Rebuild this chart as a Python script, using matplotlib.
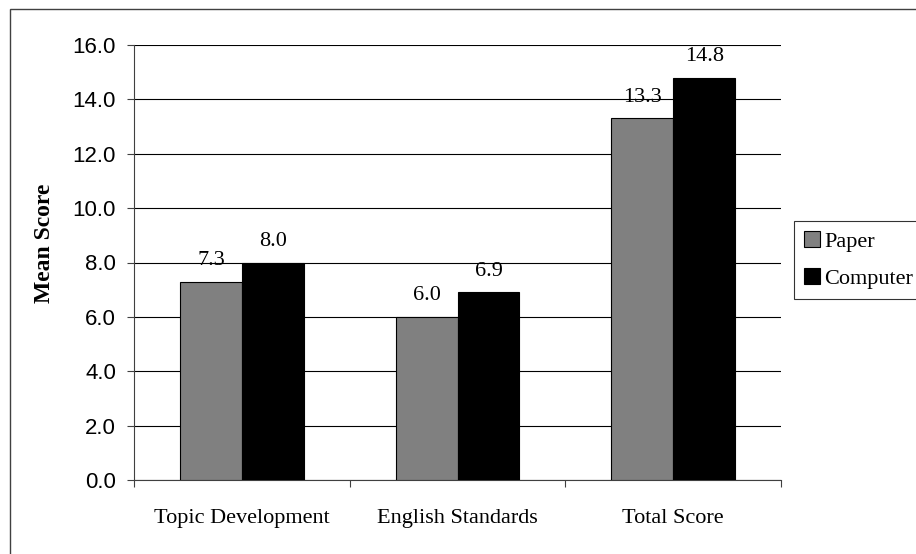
import numpy as np
import matplotlib
matplotlib.use("Agg")
import matplotlib.pyplot as plt
from matplotlib.patches import Rectangle

categories = ["Topic Development", "English Standards", "Total Score"]
paper = [7.3, 6.0, 13.3]
computer = [8.0, 6.9, 14.8]
series_names = ["Paper", "Computer"]
yticks = [0, 2, 4, 6, 8, 10, 12, 14, 16]

serif = "Liberation Serif"
sans = "Liberation Sans"

W, H = 916, 554
fig = plt.figure(figsize=(W / 100, H / 100), dpi=100)
fig.patch.set_facecolor("white")

# outer chart border (cut off at the right and bottom like the original)
fig.patches.append(Rectangle((10 / W, -0.1), 1.2, 1 - 9 / H + 0.1,
                             transform=fig.transFigure, fill=False,
                             edgecolor="#404040", linewidth=1.0))

ax = fig.add_axes([134 / W, 1 - 480 / H, 647 / W, 435 / H])

x = np.arange(len(categories))
w = 0.287
b1 = ax.bar(x - w / 2, paper, w, color="#808080", edgecolor="black", linewidth=0.8,
            label=series_names[0], zorder=3)
b2 = ax.bar(x + w / 2, computer, w, color="black", edgecolor="black", linewidth=0.8,
            label=series_names[1], zorder=3)

for bars, vals in ((b1, paper), (b2, computer)):
    for r, v in zip(bars, vals):
        ax.annotate(f"{v:.1f}", (r.get_x() + r.get_width() / 2, v),
                    xytext=(0, 12), textcoords="offset points",
                    ha="center", va="baseline", fontsize=16, family=serif)

ax.set_xlim(-0.5, len(categories) - 0.5)
ax.set_ylim(0, 16)
ax.set_yticks(yticks)
ax.set_yticklabels([f"{t:.1f}" for t in yticks], fontsize=16, family=sans)
ax.yaxis.grid(True, color="black", linewidth=0.8, zorder=0)
ax.set_axisbelow(True)

# ticks on the category boundaries, labels in the middle
ax.set_xticks(np.arange(-0.5, len(categories)), minor=False)
ax.set_xticklabels([])
ax.set_xticks(x, minor=True)
ax.set_xticklabels(categories, minor=True, fontsize=16, family=serif)
ax.tick_params(axis="x", which="major", direction="out", length=5, width=0.8, color="#404040")
ax.tick_params(axis="x", which="minor", length=0, pad=21)
ax.tick_params(axis="y", direction="out", length=5, width=0.8, color="#404040", pad=8)

for s in ("top", "right"):
    ax.spines[s].set_visible(False)
for s in ("left", "bottom"):
    ax.spines[s].set_color("#404040")
    ax.spines[s].set_linewidth(0.8)

fig.text(45 / W, 1 - 243 / H, "Mean Score", rotation=90, ha="center", va="center",
         fontsize=17, fontweight="bold", family=serif)

leg = fig.legend(handles=[b1, b2], labels=series_names, loc="upper left",
                 bbox_to_anchor=(794 / W, 1 - 221 / H), frameon=True, fancybox=False,
                 prop={"family": serif, "size": 16}, handlelength=0.7, handleheight=0.7,
                 handletextpad=0.2, borderpad=0.45, labelspacing=0.75, borderaxespad=0)
leg.get_frame().set_edgecolor("black")
leg.get_frame().set_linewidth(0.8)

fig.savefig("out.png", dpi=100)
